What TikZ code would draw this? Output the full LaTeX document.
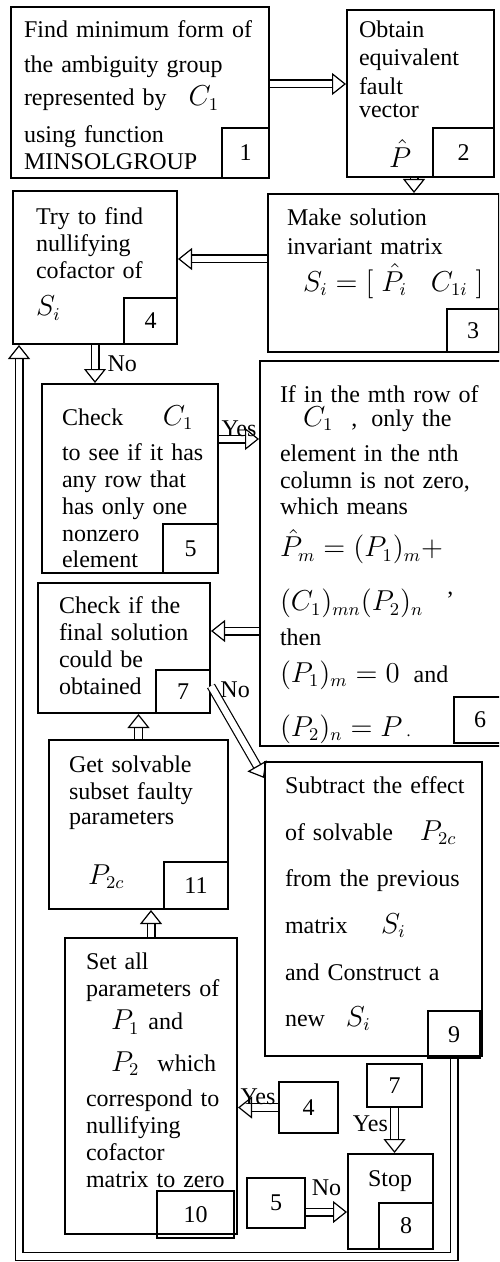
\documentclass[tikz,border=0pt]{standalone}
\usepackage{fontspec}
\setmainfont{Liberation Serif}
\usetikzlibrary{arrows.meta}

\newcommand{\mth}[1]{{\fontsize{13.5}{13.5}\selectfont$#1$}}

\begin{document}
\begin{tikzpicture}[
  x=1pt,y=-1pt,
  font=\fontsize{12}{13.5}\selectfont,
  stepbox/.style={draw,line width=1pt,anchor=north west,align=left,inner sep=0pt},
  inset/.style={execute at begin node={\leftskip=#1\relax}},
  numbox/.style={draw,line width=1pt,inner sep=0pt},
  hollow/.style={line width=.6pt,double,double distance=3.3pt,-{Triangle[open,length=7pt,width=11pt]}},
  tag/.style={inner sep=1pt}
]
  \clip (0,0) rectangle (249.5,631);

  \node[stepbox,inset=6.5pt,text width=129pt,text height=15.3pt,text depth=70.2pt] (s1) at (5,3)
    {Find minimum form of\\[4pt]the ambiguity group\\[3.2pt]represented by\hspace{11pt}\mth{C_1}\\[4.8pt]using function\\MINSOLGROUP};
  \node[numbox,anchor=south east,minimum width=23.5pt,minimum height=25pt] (n1) at (s1.south east) {1};

  \node[stepbox,inset=6pt,text width=73.5pt,text height=13.8pt,text depth=69.7pt] (s2) at (173,4.5)
    {Obtain\\[.7pt]equivalent\\[.7pt]fault\\[-1.9pt]vector\\[10pt]\hspace*{15pt}\mth{\hat{P}}};
  \node[numbox,anchor=south east,minimum width=30.5pt,minimum height=24.5pt] (n2) at (s2.south east) {2};

  \node[stepbox,inset=9.5pt,text width=115.5pt,text height=16pt,text depth=63pt] (s3) at (133.5,96.5)
    {Make solution\\[.7pt]invariant matrix\\[3.6pt]\hspace*{8pt}\mth{S_i=[\;\hat{P}_i\;\;\; C_{1i}\;]}};
  \node[numbox,anchor=south east,minimum width=26pt,minimum height=21.5pt] (n3) at (s3.south east) {3};

  \node[stepbox,inset=11.5pt,text width=82pt,text height=16.7pt,text depth=59.8pt] (s4) at (6,95)
    {Try to find\\nullifying\\cofactor of\\[5.2pt]\mth{S_i}};
  \node[numbox,anchor=south east,minimum width=26.5pt,minimum height=23pt] (n4) at (s4.south east) {4};

  \node[stepbox,inset=10pt,text width=88pt,text height=20.5pt,text depth=74pt] (s5) at (20.5,191.5)
    {Check\hspace{19.8pt}\mth{C_1}\\[4pt]to see if it has\\any row that\\has only one\\nonzero\\[-.5pt]element};
  \node[numbox,anchor=south east,minimum width=27.5pt,minimum height=24.5pt] (n5) at (s5.south east) {5};

  \node[stepbox,inset=10pt,text width=123pt,text height=20.8pt,text depth=171.7pt] (s6) at (129.5,180)
    {If in the mth row of\\[-1.8pt]\hspace*{11.5pt}\mth{C_1}\hspace{9pt},\hspace{7pt}only the\\[4pt]element in the nth\\[.2pt]column is not zero,\\[-.5pt]which means\\[6.5pt]\mth{\hat{P}_m = (P_1)_m +}\\[11.5pt]\mth{(C_1)_{mn}(P_2)_n}\hspace{12pt}\raisebox{8pt}{,}\\[4pt]then\\[4.8pt]\mth{(P_1)_m = 0}\hspace{7pt}and\\[11.5pt]\mth{(P_2)_n = P}\,{\footnotesize.}};
  \node[numbox,anchor=south east,minimum width=26pt,minimum height=23pt] (n6) at ([yshift=1.5pt]s6.south east) {6};

  \node[stepbox,inset=10.5pt,text width=86pt,text height=15.2pt,text depth=49.8pt] (s7) at (18.5,291)
    {Check if the\\final solution\\could be\\obtained};
  \node[numbox,anchor=south east,minimum width=27pt,minimum height=21.5pt] (n7) at (s7.south east) {7};

  \node[stepbox,inset=10pt,font=\fontsize{12}{23.3}\selectfont,text width=108.5pt,text height=15.8pt,text depth=131.2pt] (s9) at (132,380.5)
    {Subtract the effect\\of solvable\hspace{13.5pt}\mth{P_{2c}}\\from the previous\\matrix\hspace{16.7pt}\mth{S_i}\\and Construct a\\new\hspace{10.5pt}\mth{S_i}};
  \node[numbox,anchor=south east,minimum width=26pt,minimum height=23.5pt] (n9) at ([shift={(-1pt,-1pt)}]s9.south east) {9};

  \node[stepbox,inset=10pt,text width=89.5pt,text height=16.3pt,text depth=68.2pt] (s11) at (24,369.5)
    {Get solvable\\subset faulty\\[-1pt]parameters\\[16.5pt]\hspace*{9.5pt}\mth{P_{2c}}};
  \node[numbox,anchor=south east,minimum width=32pt,minimum height=23.5pt] (n11) at (s11.south east) {11};

  \node[stepbox,inset=10.5pt,text width=86pt,text height=15.7pt,text depth=132.3pt] (s10) at (32,468.5)
    {Set all\\parameters of\\[3.2pt]\hspace*{12.5pt}\mth{P_1}\hspace{4.5pt}and\\[7.3pt]\hspace*{12.5pt}\mth{P_2}\hspace{9pt}which\\[4pt]correspond to\\nullifying\\cofactor\\matrix to zero};
  \node[numbox,anchor=south east,minimum width=38.5pt,minimum height=23.5pt] (n10) at ([shift={(-1.5pt,-2pt)}]s10.south east) {10};

  \node[stepbox,inset=10pt,text width=42.5pt,text height=16pt,text depth=31.5pt] (s8) at (173.5,576.5) {Stop};
  \node[numbox,anchor=south east,minimum width=27pt,minimum height=23pt] (n8) at (s8.south east) {8};

  \node[numbox,anchor=north west,minimum width=29.5pt,minimum height=25.5pt] (r4) at (139,540.5) {4};
  \node[numbox,anchor=north west,minimum width=27.5pt,minimum height=21.5pt] (r7) at (183,531.5) {7};
  \node[numbox,anchor=north west,minimum width=29pt,minimum height=25pt] (r5) at (123,588.5) {5};

  \draw[hollow] ([yshift=4.25pt]s1.east) -- ([yshift=4.75pt]s2.west);
  \draw[hollow] ([xshift=-3.25pt]s2.south) -- ([xshift=15.25pt]s3.north);
  \draw[hollow] ([yshift=7pt]s3.west) -- ([yshift=4.25pt]s4.east);
  \draw[hollow] (s4.south) -- (s4.south |- s5.north) node[tag,midway,right=5pt] {No};
  \draw[hollow] ([yshift=19.75pt]s5.east) -- ([yshift=57.25pt]s6.west) node[tag,midway,above] {Yes};
  \draw[hollow] ([yshift=-38.75pt]s6.west) -- ([yshift=8.5pt]s7.east);
  \draw[hollow] ([yshift=-19pt]s7.east) -- ([yshift=-8.5pt]s9.north west) node[tag,pos=.13,anchor=base west] {No};
  \draw[hollow] (s11.north) -- (s11.north |- s7.south);
  \draw[hollow] (s10.north) -- (s10.north |- s11.south);
  \draw[hollow] (r4.west) -- (r4.west -| s10.east) node[tag,midway,above] {Yes};
  \draw[hollow] (r7.south) -- (r7.south |- s8.north) node[tag,pos=.35,left=2pt] {Yes};
  \draw[hollow] ([yshift=-4.5pt]r5.east) -- ([yshift=-5.25pt]s8.west) node[tag,midway,above=7pt] {No};

  \coordinate (back) at (9.5,628.25);
  \draw[hollow] (n9.south) |- (back) -- ([xshift=3.5pt]s4.south west);
\end{tikzpicture}
\end{document}
